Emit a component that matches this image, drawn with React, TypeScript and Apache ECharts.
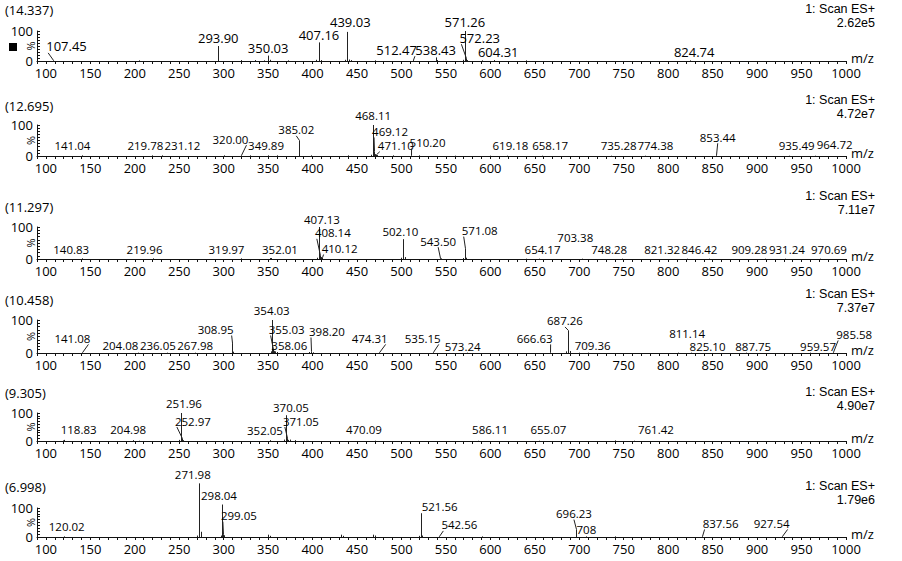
import React, { useEffect, useRef } from "react";
import * as echarts from "echarts";

// ---------- data ----------
const RETENTION = ["(14.337)", "(12.695)", "(11.297)", "(10.458)", "(9.305)", "(6.998)"];
const SCAN_TEXT = "1: Scan ES+";
const BASE_INTENSITY = ["2.62e5", "4.72e7", "7.11e7", "7.37e7", "4.90e7", "1.79e6"];
const Y_NAME = "%";
const X_NAME = "m/z";
const X_MIN = 90;
const X_MAX = 1000;

// Panel 1
const P1_LABELS = ["107.45", "293.90", "350.03", "407.16", "439.03", "512.47", "538.43", "571.26", "572.23", "604.31", "824.74"];
const P1_INT = [2, 50, 18, 62, 97, 3, 12, 100, 8, 3, 2];
const P1_NOISE_MZ = [205, 320, 335, 345, 352, 372, 404, 410, 436, 441, 443, 470, 540, 569, 574, 590, 640];
const P1_NOISE_INT = [2, 3, 3, 2, 4, 2, 4, 3, 4, 5, 3, 2, 3, 4, 3, 2, 2];
// Panel 2
const P2_LABELS = ["141.04", "219.78", "231.12", "320.00", "349.89", "385.02", "468.11", "469.12", "471.10", "510.20", "619.18", "658.17", "735.28", "774.38", "853.44", "935.49", "964.72"];
const P2_INT = [2, 2, 2, 2, 2, 50, 100, 15, 4, 2, 1, 1, 1, 1, 2, 1, 1];
const P2_NOISE_MZ = [300, 330, 360, 398, 440, 466, 470, 472, 490, 520, 560, 600];
const P2_NOISE_INT = [2, 2, 2, 2, 2, 4, 6, 3, 2, 2, 1, 1];
// Panel 3
const P3_LABELS = ["140.83", "219.96", "319.97", "352.01", "407.13", "408.14", "410.12", "502.10", "543.50", "571.08", "654.17", "703.38", "748.28", "821.32", "846.42", "909.28", "931.24", "970.69"];
const P3_INT = [2, 2, 2, 3, 100, 10, 4, 62, 2, 32, 1, 1, 1, 1, 1, 1, 1, 1];
const P3_NOISE_MZ = [353, 405, 409, 411, 500, 504, 545, 569, 572, 640];
const P3_NOISE_INT = [3, 4, 6, 3, 4, 6, 2, 3, 4, 1];
// Panel 4
const P4_LABELS = ["141.08", "204.08", "236.05", "267.98", "308.95", "354.03", "355.03", "358.06", "398.20", "474.31", "535.15", "573.24", "666.63", "687.26", "709.36", "811.14", "825.10", "887.75", "959.57", "985.58"];
const P4_INT = [1, 1, 1, 1, 30, 100, 10, 4, 5, 1, 2, 1, 2, 68, 1, 1, 1, 1, 1, 2];
const P4_NOISE_MZ = [310, 353, 356, 357, 360, 396, 400, 685, 689, 700];
const P4_NOISE_INT = [4, 5, 8, 4, 3, 3, 2, 5, 6, 1];
// Panel 5
const P5_LABELS = ["118.83", "204.98", "251.96", "252.97", "352.05", "370.05", "371.05", "470.09", "586.11", "655.07", "761.42"];
const P5_INT = [2, 1, 100, 8, 3, 92, 10, 1, 1, 1, 1];
const P5_NOISE_MZ = [120, 198, 250, 253, 254, 368, 372, 375, 380, 740];
const P5_NOISE_INT = [4, 3, 4, 5, 3, 5, 4, 5, 3, 2];
// Panel 6
const P6_LABELS = ["120.02", "271.98", "298.04", "299.05", "521.56", "542.56", "696.23", "708", "837.56", "927.54"];
const P6_INT = [2, 185, 112, 8, 82, 2, 26, 2, 2, 2];
const P6_NOISE_MZ = [270, 274, 297, 300, 350, 352, 432, 434, 468, 470, 520, 523, 590, 740];
const P6_NOISE_INT = [5, 18, 5, 6, 8, 4, 8, 4, 8, 5, 4, 5, 2, 2];

// ---------- label placement (layout, not data) ----------
// lift: height (in % units) of the label's bottom; dx: horizontal shift (px); lead: draw leader line
const P1_LIFT = [27, 56, 23, 64, 107, 16, 16, 110, 56, 9, 9];
const P1_DX = [14, 0, 0, 0, 3, -16, 0, 0, 14, 4, 4];
const P1_LEAD = [1, 0, 0, 0, 0, 1, 0, 0, 1, 0, 0];
const P2_LIFT = [14, 14, 14, 35, 14, 65, 110, 60, 14, 24, 14, 14, 14, 14, 41, 14, 18];
const P2_DX = [-10, -7, 20, -11, -2, -3, 0, 16, 20, 17, 3, 8, 8, 10, 2, 8, 20];
const P2_LEAD = [0, 0, 0, 1, 0, 1, 0, 1, 1, 1, 0, 0, 0, 0, 1, 0, 0];
const P3_LIFT = [12, 12, 12, 12, 104, 63, 14, 68, 37, 70, 12, 48, 12, 12, 12, 12, 12, 12];
const P3_DX = [-11, -8, -15, 10, 3, 13, 18, -3, -2, 15, 4, -7, -13, -25, -10, -16, 2, 9];
const P3_LEAD = [0, 0, 0, 0, 0, 1, 1, 0, 1, 1, 0, 0, 0, 0, 0, 0, 0, 0];
const P4_LIFT = [26, 6, 6, 6, 53, 112, 53, 6, 47, 26, 26, 3, 26, 79, 6, 41, 3, 3, 3, 38];
const P4_DX = [-10, -18, -9, 0, -16, 0, 14, 14, 16, -9, -10, -4, -15, -3, 5, 9, 17, 7, 8, 21];
const P4_LEAD = [1, 0, 0, 0, 1, 0, 1, 1, 1, 1, 1, 0, 1, 1, 0, 0, 0, 0, 0, 1];
const P5_LIFT = [18, 18, 114, 50, 15, 100, 50, 18, 18, 18, 18];
const P5_DX = [16, -11, 3, 11, -5, 5, 14, -11, 12, 9, 22];
const P5_LEAD = [0, 0, 0, 1, 0, 0, 1, 0, 0, 0, 0];
const P6_LIFT = [14, 195, 122, 53, 84, 21, 60, 6, 26, 26];
const P6_DX = [3, -6, -3, 16, 19, 20, -2, 0, 19, -10];
const P6_LEAD = [0, 0, 0, 1, 0, 1, 1, 0, 1, 1];

const PANELS = [
  { labels: P1_LABELS, ints: P1_INT, nMz: P1_NOISE_MZ, nInt: P1_NOISE_INT, lift: P1_LIFT, dx: P1_DX, lead: P1_LEAD },
  { labels: P2_LABELS, ints: P2_INT, nMz: P2_NOISE_MZ, nInt: P2_NOISE_INT, lift: P2_LIFT, dx: P2_DX, lead: P2_LEAD },
  { labels: P3_LABELS, ints: P3_INT, nMz: P3_NOISE_MZ, nInt: P3_NOISE_INT, lift: P3_LIFT, dx: P3_DX, lead: P3_LEAD },
  { labels: P4_LABELS, ints: P4_INT, nMz: P4_NOISE_MZ, nInt: P4_NOISE_INT, lift: P4_LIFT, dx: P4_DX, lead: P4_LEAD },
  { labels: P5_LABELS, ints: P5_INT, nMz: P5_NOISE_MZ, nInt: P5_NOISE_INT, lift: P5_LIFT, dx: P5_DX, lead: P5_LEAD },
  { labels: P6_LABELS, ints: P6_INT, nMz: P6_NOISE_MZ, nInt: P6_NOISE_INT, lift: P6_LIFT, dx: P6_DX, lead: P6_LEAD },
];

// pixel layout of each panel
const LAYOUT = [
  { top: 31, bottom: 61, titleY: 10, scanY: 8, fs: 13 },
  { top: 125, bottom: 156, titleY: 106, scanY: 99, fs: 11.5 },
  { top: 227, bottom: 259, titleY: 207, scanY: 195, fs: 11.5 },
  { top: 320, bottom: 353, titleY: 300, scanY: 293, fs: 11.5 },
  { top: 413, bottom: 441, titleY: 393, scanY: 391, fs: 11.5 },
  { top: 508, bottom: 537, titleY: 487, scanY: 485, fs: 11.5 },
];

const FONT = "'Open Sans', 'Noto Sans', sans-serif";
const SIDE_FONT = "'Liberation Sans', Arial, sans-serif";
const INK = "#111";

function textWidth(s: string, fs: number) {
  let w = 0;
  for (const c of s) w += (c === "." ? 0.27 : 0.572) * fs;
  return w;
}

function buildOption() {
  const grid: any[] = [];
  const xAxis: any[] = [];
  const yAxis: any[] = [];
  const series: any[] = [];
  const graphic: any[] = [];

  PANELS.forEach((p, i) => {
    const L = LAYOUT[i];
    const fs = L.fs;
    grid.push({
      left: 37,
      width: 809,
      top: L.top,
      height: L.bottom - L.top,
      containLabel: false,
      outerBoundsMode: "none",
    });
    xAxis.push({
      type: "value",
      gridIndex: i,
      min: X_MIN,
      max: X_MAX,
      interval: 10,
      splitLine: { show: false },
      axisLine: { lineStyle: { color: INK, width: 1 } },
      axisTick: { length: 3, lineStyle: { color: INK } },
      axisLabel: {
        interval: 0,
        margin: 5,
        color: "#000",
        fontSize: 13,
        lineHeight: 13,
        fontFamily: FONT,
        formatter: (v: number) => (v >= 100 && v % 50 === 0 ? String(v) : ""),
      },
      name: X_NAME,
      nameLocation: "end",
      nameGap: 5,
      nameTextStyle: { color: "#000", fontSize: 13, lineHeight: 13, fontFamily: FONT, verticalAlign: "bottom", padding: [0, 0, -3, 0] },
    });
    yAxis.push({
      type: "value",
      gridIndex: i,
      min: 0,
      max: 100,
      interval: 10,
      splitLine: { show: false },
      axisLine: { show: true, lineStyle: { color: INK, width: 1 } },
      axisTick: { show: true, inside: true, length: 3, lineStyle: { color: INK } },
      axisLabel: {
        margin: 4,
        color: "#000",
        fontSize: 13,
        lineHeight: 13,
        fontFamily: FONT,
        formatter: (v: number) => (v === 0 || v === 100 ? String(v) : ""),
      },
    });

    const stickData: number[][] = [];
    p.labels.forEach((s, k) => stickData.push([parseFloat(s), p.ints[k]]));
    p.nMz.forEach((m, k) => stickData.push([m, p.nInt[k]]));

    series.push({
      type: "custom",
      xAxisIndex: i,
      yAxisIndex: i,
      clip: false,
      silent: true,
      data: stickData,
      encode: { x: 0, y: 1 },
      renderItem: (_params: any, api: any) => {
        const m = api.value(0);
        const v = api.value(1);
        const a = api.coord([m, 0]);
        const b = api.coord([m, v]);
        const x = Math.round(a[0]) + 0.5;
        return {
          type: "line",
          shape: { x1: x, y1: a[1], x2: x, y2: b[1] },
          style: { stroke: "#222", lineWidth: 1 },
        };
      },
    });

    const labelData = p.labels.map((s, k) => [parseFloat(s), p.ints[k], p.lift[k], p.dx[k], p.lead[k], k]);
    series.push({
      type: "custom",
      xAxisIndex: i,
      yAxisIndex: i,
      clip: false,
      silent: true,
      data: labelData,
      encode: { x: 0, y: 1 },
      renderItem: (_params: any, api: any) => {
        const m = api.value(0);
        const v = api.value(1);
        const lift = api.value(2);
        const dx = api.value(3);
        const lead = api.value(4);
        const k = api.value(5);
        const text = p.labels[k];
        const peak = api.coord([m, v]);
        const lb = api.coord([m, lift]);
        const cx = peak[0] + dx;
        const by = lb[1];
        const children: any[] = [
          {
            type: "text",
            x: cx,
            y: by,
            style: {
              text,
              fill: "#000",
              fontSize: fs,
              lineHeight: Math.round(fs),
              fontFamily: FONT,
              align: "center",
              verticalAlign: "bottom",
            },
          },
        ];
        if (lead) {
          const w = textWidth(text, fs);
          let ex = cx;
          if (dx > 6) ex = cx - w / 2 + 2;
          else if (dx < -6) ex = cx + w / 2 - 2;
          children.push({
            type: "line",
            shape: { x1: Math.round(peak[0]) + 0.5, y1: peak[1], x2: ex, y2: by },
            style: { stroke: "#222", lineWidth: 1 },
          });
        }
        return { type: "group", children };
      },
    });

    graphic.push({
      type: "text",
      left: 5,
      top: L.titleY - 7,
      style: { text: RETENTION[i], fill: "#000", fontSize: 13, lineHeight: 14, fontFamily: FONT },
    });
    graphic.push({
      type: "text",
      x: 875,
      y: L.scanY + 1,
      style: {
        text: SCAN_TEXT,
        fill: "#000",
        fontSize: 12.5,
        lineHeight: 13,
        fontFamily: SIDE_FONT,
        align: "right",
        verticalAlign: "middle",
      },
    });
    graphic.push({
      type: "text",
      x: 875,
      y: L.scanY + 15,
      style: {
        text: BASE_INTENSITY[i],
        fill: "#000",
        fontSize: 12.5,
        lineHeight: 13,
        fontFamily: SIDE_FONT,
        align: "right",
        verticalAlign: "middle",
      },
    });
    graphic.push({
      type: "text",
      x: 30,
      y: (L.top + L.bottom) / 2,
      rotation: Math.PI / 2,
      style: {
        text: Y_NAME,
        fill: "#000",
        fontSize: 11,
        fontFamily: FONT,
        align: "center",
        verticalAlign: "middle",
      },
    });
  });

  graphic.push({ type: "rect", shape: { x: 9, y: 43, width: 8, height: 8 }, style: { fill: "#000" } });

  return {
    animation: false,
    backgroundColor: "#fff",
    grid,
    xAxis,
    yAxis,
    series,
    graphic,
  };
}

export default function App() {
  const ref = useRef<HTMLDivElement>(null);
  useEffect(() => {
    if (!ref.current) return;
    const chart = echarts.init(ref.current, undefined, { renderer: "svg" });
    chart.setOption(buildOption() as any);
    return () => chart.dispose();
  }, []);
  return (
    <div
      ref={ref}
      style={{ position: "absolute", left: 0, top: 0, width: 902, height: 561, background: "#fff" }}
    />
  );
}
